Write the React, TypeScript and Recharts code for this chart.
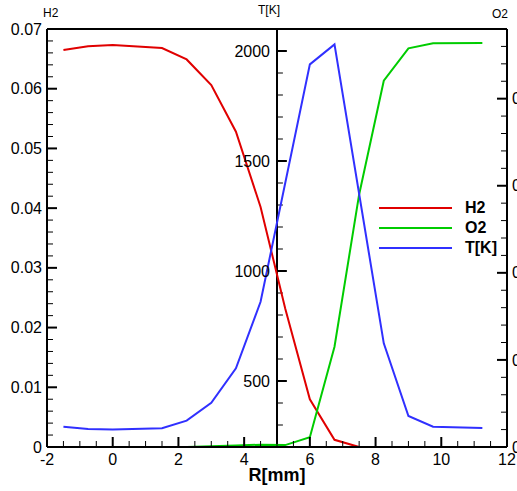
import { Legend, Line, LineChart, ReferenceLine, XAxis, YAxis } from 'recharts';

const FONT = '"Liberation Sans", Arial, Helvetica, sans-serif';

// radial position [mm] and profiles
const H2_R = [-1.5, -0.75, 0, 1.5, 2.25, 3, 3.75, 4.5, 5.25, 6, 6.75, 7.5];
const H2_VALUES = [0.0665, 0.0671, 0.0673, 0.0668, 0.0649, 0.0606, 0.0528, 0.0402, 0.0232, 0.008, 0.0012, 0];

const O2_R = [-1.5, -0.75, 0, 1.5, 2.25, 3, 3.75, 4.5, 5.25, 6, 6.75, 7.5, 8.25, 9, 9.75, 11.25];
const O2_VALUES = [0, 0, 0, 0, 0, 0.0004, 0.0009, 0.0013, 0.0011, 0.0056, 0.0576, 0.145, 0.2103, 0.2289, 0.2318, 0.232];

const T_R = [-1.5, -0.75, 0, 1.5, 2.25, 3, 3.75, 4.5, 6, 6.75, 8.25, 9, 9.75, 11.25];
const T_VALUES = [292, 282, 280, 285, 320, 401, 558, 860, 1939, 2030, 671, 341, 292, 286];

// axis ticks (majors carry labels)
const R_TICKS = [-2, 0, 2, 4, 6, 8, 10, 12];
const H2_TICKS = [0, 0.01, 0.02, 0.03, 0.04, 0.05, 0.06, 0.07];
const O2_TICKS = [0, 0.05, 0.1, 0.15, 0.2];
const T_TICKS = [500, 1000, 1500, 2000];

const H2_COLOR = '#e00000';
const O2_COLOR = '#00cc00';
const T_COLOR = '#3030ff';

const range = (lo: number, hi: number, step: number) =>
  Array.from({ length: Math.round((hi - lo) / step) + 1 }, (_, i) => +(lo + i * step).toFixed(4));

const R_ALL = range(-2, 12, 0.5);
const H2_ALL = range(0, 0.07, 0.002);
const O2_ALL = range(0, 0.24, 0.01);
const T_MINOR = range(300, 2000, 100).filter((v) => !T_TICKS.includes(v));

const toRows = (r: number[], v: number[]) => r.map((x, i) => ({ r: x, v: v[i] }));
const h2Data = toRows(H2_R, H2_VALUES);
const o2Data = toRows(O2_R, O2_VALUES);
const tData = toRows(T_R, T_VALUES);

const fmt = (v: number) => (v === 0 ? '0' : String(v));

const LeftTick = ({ x, y, payload }: any) => {
  const major = H2_TICKS.includes(payload.value);
  const ax = x + 5;
  return (
    <g>
      <line x1={ax} x2={ax + (major ? 10 : 6)} y1={y} y2={y} stroke="#000" strokeWidth={major ? 2 : 1} />
      {major && (
        <text x={x} y={y} dy="0.35em" textAnchor="end" fontSize={16} fill="#000">
          {fmt(payload.value)}
        </text>
      )}
    </g>
  );
};

const RightTick = ({ x, y, payload }: any) => {
  const major = O2_TICKS.includes(payload.value);
  const ax = x - 5;
  return (
    <g>
      <line x1={ax} x2={ax - (major ? 10 : 6)} y1={y} y2={y} stroke="#000" strokeWidth={major ? 2 : 1} />
      {major && (
        <text x={x} y={y} dy="0.35em" textAnchor="start" fontSize={16} fill="#000">
          {fmt(payload.value)}
        </text>
      )}
    </g>
  );
};

const BottomTick = ({ x, y, payload }: any) => {
  const major = R_TICKS.includes(payload.value);
  return (
    <g>
      <line x1={x} x2={x} y1={y} y2={y - (major ? 10 : 6)} stroke="#000" strokeWidth={major ? 2 : 1} />
      {major && (
        <text x={x} y={y + 18} textAnchor="middle" fontSize={16} fill="#000">
          {payload.value}
        </text>
      )}
    </g>
  );
};

const renderLegend = ({ payload }: any) => (
  <div style={{ fontWeight: 'bold', fontSize: 16 }}>
    {(payload || []).map((entry: any) => (
      <div key={entry.value} style={{ display: 'flex', alignItems: 'center', height: 20 }}>
        <span style={{ width: 73, height: 2, background: entry.color, marginRight: 13 }} />
        <span>{entry.value}</span>
      </div>
    ))}
  </div>
);

const titleStyle = { position: 'absolute' as const, fontSize: 12, lineHeight: '14px' };

export default function App() {
  return (
    <div
      style={{
        position: 'absolute',
        left: 0,
        top: 0,
        width: 517,
        height: 491,
        overflow: 'hidden',
        background: '#fff',
        fontFamily: FONT,
        color: '#000',
      }}
    >
      <LineChart width={560} height={491} margin={{ top: 29, right: 0, bottom: 0, left: 0 }}>
        <XAxis
          dataKey="r"
          type="number"
          domain={[-2, 12]}
          ticks={R_ALL}
          interval={0}
          height={44}
          tickSize={0}
          tickMargin={0}
          tickLine={false}
          axisLine={{ stroke: '#000', strokeWidth: 2 }}
          tick={BottomTick}
        />
        <YAxis
          yAxisId="H2"
          domain={[0, 0.07]}
          ticks={H2_ALL}
          interval={0}
          width={47}
          tickSize={0}
          tickMargin={5}
          tickLine={false}
          axisLine={{ stroke: '#000', strokeWidth: 2 }}
          tick={LeftTick}
        />
        <YAxis
          yAxisId="O2"
          orientation="right"
          domain={[0, 0.24]}
          ticks={O2_ALL}
          interval={0}
          width={53}
          tickSize={0}
          tickMargin={5}
          tickLine={false}
          axisLine={{ stroke: '#000', strokeWidth: 2 }}
          tick={RightTick}
        />
        <YAxis yAxisId="T" hide domain={[200, 2100]} />

        <ReferenceLine yAxisId="H2" y={0.07} stroke="#000" strokeWidth={2} />
        <ReferenceLine yAxisId="H2" x={5} stroke="#000" strokeWidth={2} />
        {T_MINOR.map((v) => (
          <ReferenceLine
            key={'m' + v}
            yAxisId="T"
            segment={[{ x: 5, y: v }, { x: 5.18, y: v }]}
            stroke="#000"
            strokeWidth={1}
          />
        ))}
        {T_TICKS.map((v) => (
          <ReferenceLine
            key={'M' + v}
            yAxisId="T"
            segment={[{ x: 5, y: v }, { x: 5.3, y: v }]}
            stroke="#000"
            strokeWidth={2}
            label={{ value: String(v), position: 'left', offset: 7, fontSize: 16, fill: '#000' }}
          />
        ))}

        <Line
          yAxisId="H2"
          data={h2Data}
          dataKey="v"
          name="H2"
          type="linear"
          stroke={H2_COLOR}
          strokeWidth={2}
          dot={false}
          isAnimationActive={false}
        />
        <Line
          yAxisId="O2"
          data={o2Data}
          dataKey="v"
          name="O2"
          type="linear"
          stroke={O2_COLOR}
          strokeWidth={2}
          dot={false}
          isAnimationActive={false}
        />
        <Line
          yAxisId="T"
          data={tData}
          dataKey="v"
          name="T[K]"
          type="linear"
          stroke={T_COLOR}
          strokeWidth={2}
          dot={false}
          isAnimationActive={false}
        />
        <Legend
          layout="vertical"
          align="center"
          verticalAlign="middle"
          content={renderLegend}
          wrapperStyle={{ left: 379, top: 198, width: 'auto' }}
        />
      </LineChart>

      <span style={{ ...titleStyle, left: 43, top: 6 }}>H2</span>
      <span style={{ ...titleStyle, left: 258, top: 3 }}>T[K]</span>
      <span style={{ ...titleStyle, left: 492, top: 7 }}>O2</span>
      <div
        style={{
          position: 'absolute',
          left: 47,
          width: 460,
          top: 465,
          textAlign: 'center',
          fontWeight: 'bold',
          fontSize: 18,
          lineHeight: '20px',
        }}
      >
        R[mm]
      </div>
    </div>
  );
}
